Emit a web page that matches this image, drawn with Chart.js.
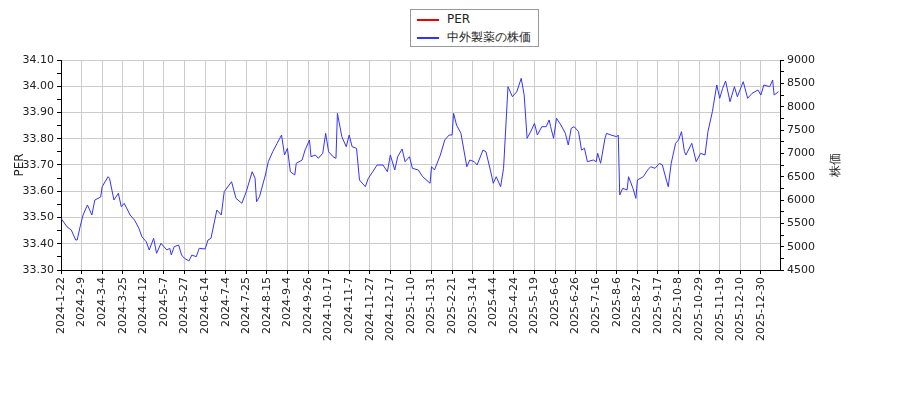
<!DOCTYPE html>
<html><head><meta charset="utf-8">
<script src="https://cdn.jsdelivr.net/npm/chart.js@4"></script>
<style>
body{margin:0;background:#fff;}
#wrap{position:relative;width:900px;height:400px;}
#lg{position:absolute;left:410px;top:9px;width:129px;height:38px;border:1px solid #999;background:#fff;font:12px "DejaVu Sans";color:#222;box-sizing:border-box;}
#lg div{position:absolute;left:6px;height:14px;line-height:14px;}
#lg span{display:inline-block;width:22px;height:2px;vertical-align:middle;margin-right:8px;}
</style></head><body>
<div id="wrap"><canvas id="c" width="900" height="400"></canvas>
<div id="lg"><div style="top:2px"><span style="background:#e00"></span>PER</div><div style="top:20px"><span style="background:#33f"></span>中外製薬の株価</div></div></div>
<script>
const tickLabels=["2024-1-22","2024-2-9","2024-3-4","2024-3-25","2024-4-12","2024-5-7","2024-5-27","2024-6-14","2024-7-4","2024-7-25","2024-8-15","2024-9-4","2024-9-26","2024-10-17","2024-11-7","2024-11-27","2024-12-17","2025-1-10","2025-1-31","2025-2-21","2025-3-14","2025-4-4","2025-4-24","2025-5-19","2025-6-6","2025-6-26","2025-7-16","2025-8-6","2025-8-27","2025-9-17","2025-10-8","2025-10-29","2025-11-19","2025-12-10","2025-12-30"];
const dayIndex=[0,4,7,10,11,13,15,18,21,23,27,28,32,33,36,39,41,43,47,50,53,55,58,60,63,65,68,72,74,75,77,80,82,84,87,89,92,94,98,100,102,106,109,111,116,119,123,126,130,132,133,135,139,141,144,147,150,152,154,156,159,160,164,166,169,170,173,175,178,180,182,185,187,188,191,194,196,198,201,203,207,209,212,215,219,222,224,227,229,232,234,237,239,243,246,251,252,254,258,261,264,266,267,269,272,276,278,281,283,287,289,292,294,296,299,301,304,307,310,313,315,317,320,322,324,327,330,332,333,335,337,340,343,345,347,349,352,354,356,358,362,364,365,367,370,371,374,378,379,380,382,385,386,389,391,392,396,399,401,404,407,409,412,413,415,418,420,422,424,425,429,432,435,438,440,443,446,448,450,452,455,458,460,464,467,470,474,476,478,482,484,485,488];
const price=[5608,5428,5357,5143,5143,5428,5678,5893,5678,6000,6064,6285,6499,6465,6000,6143,5856,5929,5678,5571,5393,5213,5106,4928,5179,4857,5072,4928,4965,4821,5000,5035,4821,4750,4693,4821,4785,4965,4950,5143,5179,5786,5678,6178,6392,6036,5929,6178,6606,6465,5963,6071,6536,6821,7035,7215,7393,6964,7108,6606,6536,6786,6857,7071,7286,6928,6964,6893,7000,7429,7035,6928,6893,7857,7356,7142,7393,7142,7108,6428,6285,6465,6606,6750,6750,6606,6964,6643,6928,7093,6821,6928,6679,6643,6499,6358,6713,6643,6964,7286,7393,7393,7857,7607,7429,6713,6857,6821,6750,7071,7035,6643,6358,6499,6285,6679,8428,8214,8321,8608,8250,7322,7500,7643,7393,7571,7571,7714,7571,7322,7751,7607,7429,7178,7536,7571,7464,7071,7108,6821,6857,6821,7000,6786,7322,7429,7393,7356,7393,6107,6250,6214,6499,6250,6036,6428,6499,6643,6713,6679,6786,6750,6392,6285,6786,7215,7286,7464,7035,6964,7215,6821,7000,6964,7464,7892,8464,8179,8394,8550,8106,8428,8214,8535,8179,8286,8357,8250,8464,8428,8571,8250,8321];
const perValues=[];
const pts=dayIndex.map((d,i)=>({x:d,y:price[i]}));
const F={family:"DejaVu Sans",size:11};
const titles={id:'titles',afterDraw(ch){const c=ch.ctx;c.save();c.fillStyle='#222';c.font='12px "DejaVu Sans"';c.textAlign='center';c.textBaseline='middle';
c.translate(20,165);c.rotate(-Math.PI/2);c.fillText('PER',0,0);c.restore();c.save();c.fillStyle='#222';c.font='12px "DejaVu Sans"';c.textAlign='center';c.textBaseline='middle';c.translate(836,165);c.rotate(-Math.PI/2);c.fillText('株価',0,0);c.restore();}};
new Chart(document.getElementById('c'),{type:'line',
data:{datasets:[{label:'PER',data:perValues,borderColor:'#e00',yAxisID:'y',pointRadius:0},
{label:'中外製薬の株価',data:pts,borderColor:'#33f',borderWidth:1,pointRadius:0,tension:0,yAxisID:'y1'}]},
options:{responsive:false,animation:false,layout:{padding:{top:60,left:0,right:0,bottom:0}},
plugins:{legend:{display:false},tooltip:{enabled:false}},
scales:{
x:{type:'linear',min:0,max:489,afterFit(s){s.height=130;},
 afterBuildTicks(s){s.ticks=tickLabels.map((t,i)=>({value:i*14}));},
 ticks:{autoSkip:false,minRotation:90,maxRotation:90,font:F,color:'#222',callback:(v)=>tickLabels[Math.round(v/14)]},
 grid:{color:'#ccc',tickColor:'#000',tickLength:4},border:{color:'#000'}},
y:{position:'left',min:33.3,max:34.1,afterFit(s){s.width=61;},
 afterBuildTicks(s){const a=[];for(let i=0;i<=16;i++)a.push({value:+(33.3+i*0.05).toFixed(2)});s.ticks=a;},
 ticks:{font:F,color:'#222',autoSkip:false,callback:(v)=>{const k=Math.round(v*100);return k%10===0?(k/100).toFixed(2):'';}},
 grid:{color:(c)=>Math.round(c.tick.value*100)%10===0?'#ccc':'rgba(0,0,0,0)',tickColor:'#000',tickLength:4},border:{color:'#000'}},
y1:{position:'right',min:4500,max:9000,afterFit(s){s.width=120;},
 afterBuildTicks(s){const a=[];for(let v=4500;v<=9000;v+=250)a.push({value:v});s.ticks=a;},
 ticks:{font:F,color:'#222',autoSkip:false,callback:(v)=>v%500===0?String(v):''},
 grid:{drawOnChartArea:false,tickColor:'#000',tickLength:4},border:{color:'#000'}}
}},plugins:[titles]});
</script></body></html>
